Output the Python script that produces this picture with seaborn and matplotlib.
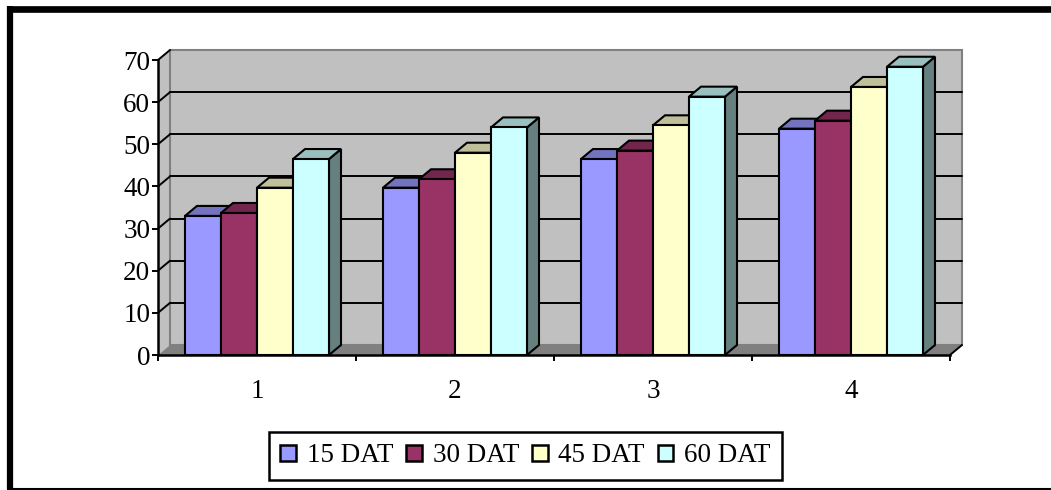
import matplotlib
matplotlib.use("Agg")
import matplotlib.pyplot as plt
from matplotlib.patches import Patch, Polygon
from matplotlib.lines import Line2D
import pandas as pd
import seaborn as sns

groups = ["1", "2", "3", "4"]
series = ["15 DAT", "30 DAT", "45 DAT", "60 DAT"]
dat15 = [33, 39.7, 46.5, 53.7]
dat30 = [33.7, 41.7, 48.5, 55.6]
dat45 = [39.7, 48, 54.5, 63.6]
dat60 = [46.5, 54, 61.3, 68.4]
colors = ["#9999FF", "#993366", "#FFFFCC", "#CCFFFF"]
tops = ["#7373BF", "#73264D", "#BFBF99", "#99BFBF"]
sides = ["#4D4D80", "#4D1A33", "#808066", "#668080"]

df = pd.DataFrame({
    "group": groups * 4,
    "series": [s for s in series for _ in groups],
    "value": dat15 + dat30 + dat45 + dat60,
})

sns.set_theme(style="white")
plt.rcParams["font.family"] = ["Liberation Serif", "DejaVu Serif"]

W, H = 1051, 490
fig = plt.figure(figsize=(W / 100, H / 100), dpi=100, facecolor="white")
ax = fig.add_axes([158 / W, 1 - 355 / H, 792 / W, 295 / H])

sns.barplot(df, x="group", y="value", hue="series", hue_order=series, palette=colors,
            saturation=1, width=144 / 198, gap=0, edgecolor="black", linewidth=1.5,
            legend=False, ax=ax, zorder=3)

ax.set_xlim(-0.5, 3.5)
ax.set_ylim(0, 70)
ax.patch.set_alpha(0)

# depth of the fake 3d box, in data units
dx = 12 / 198
dy = 10 / (295 / 70)
x0, x1 = -0.5, 3.5

ax.add_patch(Polygon([(x0, 0), (x0 + dx, dy), (x0 + dx, 70 + dy), (x0, 70)], closed=True,
                     fc="#C0C0C0", ec="none", clip_on=False, zorder=0))
ax.add_patch(Polygon([(x0 + dx, dy), (x1 + dx, dy), (x1 + dx, 70 + dy), (x0 + dx, 70 + dy)], closed=True,
                     fc="#C0C0C0", ec="#808080", lw=1.5, clip_on=False, zorder=0.1))
ax.add_patch(Polygon([(x0, 0), (x0 + dx, dy), (x1 + dx, dy), (x1, 0)], closed=True,
                     fc="#808080", ec="none", clip_on=False, zorder=0.2))

for v in range(10, 70, 10):
    ax.plot([x0 + dx, x1 + dx], [v + dy, v + dy], color="black", lw=1.4, clip_on=False, zorder=1)
for v in range(10, 80, 10):
    ax.plot([x0, x0 + dx], [v, v + dy], color="black", lw=1.4, clip_on=False, zorder=1)
ax.plot([x1, x1 + dx], [0, dy], color="black", lw=1.4, clip_on=False, zorder=1)

# top and side faces for each bar, taken from the bars seaborn drew
for i, cont in enumerate(ax.containers):
    for bar in cont:
        left, w, h = bar.get_x(), bar.get_width(), bar.get_height()
        z = 3 + i * 0.1
        bar.set_zorder(z + 0.05)
        ax.add_patch(Polygon([(left + w, 0), (left + w + dx, dy), (left + w + dx, h + dy), (left + w, h)],
                             closed=True, fc=sides[i], ec="black", lw=1.5, clip_on=False, zorder=z))
        ax.add_patch(Polygon([(left, h), (left + dx, h + dy), (left + w + dx, h + dy), (left + w, h)],
                             closed=True, fc=tops[i], ec="black", lw=1.5, clip_on=False, zorder=z))

ax.set_xlabel("")
ax.set_ylabel("")
ax.set_yticks(range(0, 80, 10))
ax.set_xticks(range(4))
ax.set_xticklabels(groups)
ax.set_xticks([x0, 0.5, 1.5, 2.5, x1], minor=True)
ax.tick_params(axis="x", which="major", length=0, pad=17, labelsize=19.5, labelcolor="black")
ax.tick_params(axis="x", which="minor", length=4, width=1.4, color="black", bottom=True)
ax.tick_params(axis="y", length=4, width=1.4, color="black", left=True, pad=1.5, labelsize=19.5, labelcolor="black")
sns.despine(ax=ax, top=True, right=True)
for s in ["left", "bottom"]:
    ax.spines[s].set_color("black")
    ax.spines[s].set_linewidth(1.8)
    ax.spines[s].set_zorder(6)

handles = [Patch(fc=c, ec="black", lw=1.8, label=s) for c, s in zip(colors, series)]
leg = fig.legend(handles=handles, loc="center", bbox_to_anchor=(525.5 / W, 1 - 456 / H), ncol=4,
                 frameon=True, fancybox=False, framealpha=1, edgecolor="black", fontsize=19.5,
                 labelcolor="black", handlelength=0.58, handleheight=0.58, handletextpad=0.4,
                 columnspacing=0.47, borderpad=0.42, borderaxespad=0)
leg.get_frame().set_linewidth(1.8)

# outer frame: thick left and top, thin bottom, none on the right
fig.add_artist(Line2D([10 / W, 10 / W], [1 - 6 / H, 1 - 489 / H], color="black", lw=4.5, solid_capstyle="butt"))
fig.add_artist(Line2D([7 / W, 1], [1 - 9.5 / H, 1 - 9.5 / H], color="black", lw=4.8, solid_capstyle="butt"))
fig.add_artist(Line2D([7 / W, 1], [1 - 489 / H, 1 - 489 / H], color="black", lw=1.5, solid_capstyle="butt"))

fig.savefig("out.png", dpi=100)
